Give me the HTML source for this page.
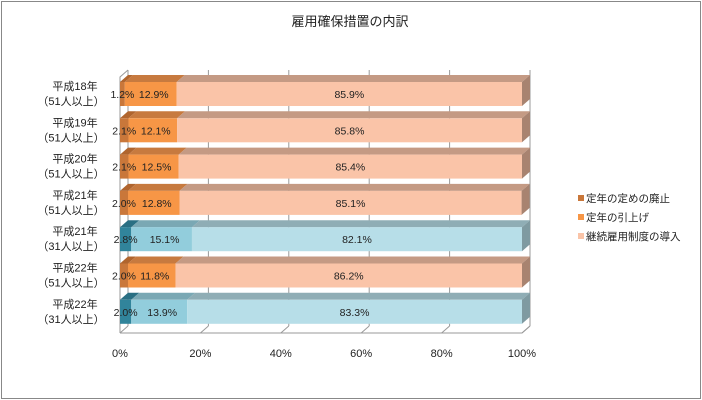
<!DOCTYPE html>
<html><head><meta charset="utf-8"><style>
html,body{margin:0;padding:0;background:#fff}
svg{display:block}
text{font-family:"Liberation Sans","Noto Sans CJK JP",sans-serif;fill:#222}
</style></head><body>
<svg id="s" width="702" height="400" xmlns="http://www.w3.org/2000/svg">
<rect x="1.5" y="1.5" width="699" height="397" fill="#fff" stroke="#888" stroke-width="1"/>
<text x="350" y="26" font-size="13" text-anchor="middle">雇用確保措置の内訳</text>
<g id="g"></g>
<rect x="578" y="195" width="6" height="6" fill="#c9773a"/>
<text x="586" y="202" font-size="10.5">定年の定めの廃止</text>
<rect x="578" y="214" width="6" height="6" fill="#f79646"/>
<text x="586" y="221" font-size="10.5">定年の引上げ</text>
<rect x="578" y="233" width="6" height="6" fill="#fac4a8"/>
<text x="586" y="240" font-size="10.5">継続雇用制度の導入</text>
</svg>
<script>
const g=document.getElementById('g');let h='';
const X0=120,W=402,dx=8,dy=-7;
h+=`<polyline points="${X0},333 ${X0},77 ${X0+dx},70" fill="none" stroke="#999"/>`;
h+=`<line x1="${X0+dx}" y1="70" x2="${X0+dx}" y2="326" stroke="#999"/>`;
for(let i=1;i<=5;i++){const x=X0+dx+W*i/5;h+=`<line x1="${x}" y1="70" x2="${x}" y2="326" stroke="#999"/>`;}
h+=`<polyline points="${X0},333 ${X0+W},333 ${X0+W+dx},326" fill="none" stroke="#999"/>`;
for(let i=0;i<=5;i++){const x=X0+W*i/5;h+=`<line x1="${x}" y1="333" x2="${x+dx}" y2="326" stroke="#999"/>`;
h+=`<text x="${x}" y="357" font-size="11" text-anchor="middle">${i*20}%</text>`;}
const rows=[["平成18年","51",1.2,12.9,85.9,0],["平成19年","51",2.1,12.1,85.8,0],["平成20年","51",2.1,12.5,85.4,0],["平成21年","51",2.0,12.8,85.1,0],["平成21年","31",2.8,15.1,82.1,1],["平成22年","51",2.0,11.8,86.2,0],["平成22年","31",2.8,13.9,83.3,1]];
const lab=["1.2","2.1","2.1","2.0","2.8","2.0","2.0"];
const C=[[["#c9773a","#b0652e","#a35a28"],["#f79646","#c77a3f","#b8703a"],["#fac4a8","#c49a84","#a88370"]],
[["#31849b","#2a6f83","#25606f"],["#92cddc","#7aa8b4","#6f98a3"],["#b7dee8","#8fadb5","#7f9aa1"]]];
rows.forEach((r,i)=>{const y=82+i*36.3,hh=24;let x=X0;const cs=C[r[5]];
const vals=[r[2],r[3],r[4]];
vals.forEach((v,k)=>{const w=W*v/100;const c=cs[k];
h+=`<polygon points="${x},${y} ${x+dx},${y+dy} ${x+w+dx},${y+dy} ${x+w},${y}" fill="${c[1]}"/>`;
h+=`<rect x="${x}" y="${y}" width="${w}" height="${hh}" fill="${c[0]}"/>`;
x+=w;});
h+=`<polygon points="${x},${y} ${x+dx},${y+dy} ${x+dx},${y+hh+dy} ${x},${y+hh}" fill="${cs[2][2]}"/>`;
let lx=X0;const ty=y+16;
const w0=W*r[2]/100,w1=W*r[3]/100,w2=W*r[4]/100;
h+=`<text x="${lx+w0/2}" y="${ty}" font-size="10.5" text-anchor="middle">${lab[i]}%</text>`;
h+=`<text x="${lx+w0+w1/2+3}" y="${ty}" font-size="10.5" text-anchor="middle">${r[3].toFixed(1)}%</text>`;
h+=`<text x="${lx+w0+w1+w2/2}" y="${ty}" font-size="10.5" text-anchor="middle">${r[4].toFixed(1)}%</text>`;
h+=`<text x="75" y="${y+8}" font-size="11" text-anchor="middle">${r[0]}</text>`;
h+=`<text x="71" y="${y+23}" font-size="11" text-anchor="middle">（${r[1]}人以上）</text>`;
});
g.innerHTML=h;
</script>
</body></html>
